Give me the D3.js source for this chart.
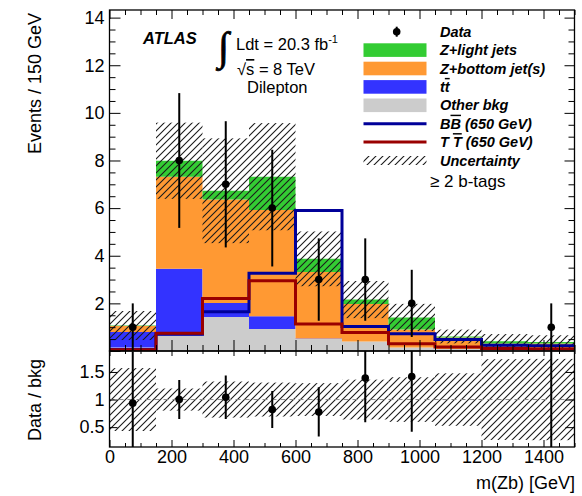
<!DOCTYPE html>
<html>
<head>
<meta charset="utf-8">
<script src="https://cdn.jsdelivr.net/npm/d3@7/dist/d3.min.js"></script>
<style>
  html, body { margin: 0; padding: 0; background: #fff; }
  svg { display: block; font-family: "Liberation Sans", Arial, Helvetica, sans-serif; }
</style>
</head>
<body>
<svg id="chart" width="582" height="496"></svg>
<script>
// m(Zb) distribution, >= 2 b-tags, dilepton channel (events per 150 GeV bin)
const binEdges   = [0, 150, 300, 450, 600, 750, 900, 1050, 1200, 1350, 1500];
const otherBkg   = [0.15, 0.65, 1.43, 0.92, 0.50, 0.40, 0.15, 0.08, 0.06, 0.05];
const ttbar      = [0.65, 2.80, 0.59, 0.54, 0.02, 0.00, 0.00, 0.00, 0.00, 0.00];
const zBottom    = [0.25, 3.87, 4.34, 4.46, 2.80, 1.57, 0.75, 0.49, 0.26, 0.26];
const zLight     = [0.02, 0.67, 0.37, 1.40, 0.55, 0.19, 0.51, 0.04, 0.09, 0.07];
const bkgUnc     = [0.61, 1.60, 2.20, 2.25, 1.15, 0.78, 0.57, 0.29, 0.30, 0.28];
const dataCounts = [1, 8, 7, 6, 3, 3, 2, 0, 0, 1];
const dataErr    = [1.00, 2.83, 2.65, 2.45, 1.73, 1.73, 1.41, 0, 0, 1.00];
const sigBB      = [0.06, 0.70, 1.65, 3.26, 5.90, 1.03, 0.72, 0.48, 0.24, 0.22];
const sigTT      = [0.05, 0.75, 2.20, 2.95, 1.13, 0.78, 0.30, 0.17, 0.10, 0.08];
const yTicksMain = [2, 4, 6, 8, 10, 12, 14];
const yTicksRatio = [0.5, 1, 1.5];
const xTicks     = [0, 200, 400, 600, 800, 1000, 1200, 1400];

const legendRows = [
  { kind: "data",  label: [["Data"]] },
  { kind: "box",   color: "#33cc33", label: [["Z+light jets"]] },
  { kind: "box",   color: "#ff9933", label: [["Z+bottom jet(s)"]] },
  { kind: "box",   color: "#3333ff", label: [["t"], ["t", "over"]] },
  { kind: "box",   color: "#cccccc", label: [["Other bkg"]] },
  { kind: "line",  color: "#000099", label: [["B"], ["B", "over"], [" (650 GeV)"]] },
  { kind: "line",  color: "#990000", label: [["T "], ["T", "over"], [" (650 GeV)"]] },
  { kind: "hatch", label: [["Uncertainty"]] }
];

const FS = 18;
const svg = d3.select("#chart");
const nb = dataCounts.length;
const bins = d3.range(nb);

const x  = d3.scaleLinear().domain([0, 1500]).range([109.5, 574.5]);
const y  = d3.scaleLinear().domain([0, 14.32]).range([351, 10]);
const yr = d3.scaleLinear().domain([0.14, 1.88]).range([447, 351]);

const defs = svg.append("defs");
const pat = defs.append("pattern").attr("id", "hatch")
  .attr("patternUnits", "userSpaceOnUse").attr("width", 7).attr("height", 7);
pat.append("path").attr("d", "M-1,1 l2,-2 M0,7 l7,-7 M6,8 l2,-2")
  .attr("stroke", "#1a1a1a").attr("stroke-width", 1.1);

defs.append("clipPath").attr("id", "clipMain").append("rect")
  .attr("x", x(0)).attr("y", y(14.32)).attr("width", x(1500) - x(0)).attr("height", y(0) - y(14.32));
defs.append("clipPath").attr("id", "clipRatio").append("rect")
  .attr("x", x(0)).attr("y", yr(1.88)).attr("width", x(1500) - x(0)).attr("height", yr(0.14) - yr(1.88));

// stacked backgrounds
const comps = [
  { vals: otherBkg, color: "#cccccc" },
  { vals: ttbar,    color: "#3333ff" },
  { vals: zBottom,  color: "#ff9933" },
  { vals: zLight,   color: "#33cc33" }
];
const total = bins.map(i => comps.reduce((s, c) => s + c.vals[i], 0));

const main = svg.append("g").attr("clip-path", "url(#clipMain)");

function stepPoints(lo, hi) {
  const pts = bins.map(i => ({ e: binEdges[i], lo: lo[i], hi: hi[i] }));
  pts.push({ e: binEdges[nb], lo: lo[nb - 1], hi: hi[nb - 1] });
  return pts;
}
const area = d3.area().curve(d3.curveStepAfter)
  .x(d => x(d.e)).y0(d => y(d.lo)).y1(d => y(d.hi));

let base = bins.map(() => 0);
comps.forEach(c => {
  const top = bins.map(i => base[i] + c.vals[i]);
  main.append("path").datum(stepPoints(base, top))
    .attr("d", area).attr("fill", c.color);
  base = top;
});

// background uncertainty band
main.append("g").selectAll("rect").data(bins).join("rect")
  .attr("x", i => x(binEdges[i])).attr("width", i => x(binEdges[i + 1]) - x(binEdges[i]))
  .attr("y", i => y(total[i] + bkgUnc[i]))
  .attr("height", i => y(Math.max(0, total[i] - bkgUnc[i])) - y(total[i] + bkgUnc[i]))
  .attr("fill", "url(#hatch)");

// signal hypotheses
const stepLine = d3.line().curve(d3.curveStepAfter).x(d => x(d.e)).y(d => y(d.v));
[[sigBB, "#000099"], [sigTT, "#990000"]].forEach(([vals, col]) => {
  const pts = bins.map(i => ({ e: binEdges[i], v: vals[i] }));
  pts.push({ e: binEdges[nb], v: vals[nb - 1] });
  main.append("path").datum(pts).attr("d", stepLine)
    .attr("fill", "none").attr("stroke", col).attr("stroke-width", 3);
});

// data points
const centers = bins.map(i => (binEdges[i] + binEdges[i + 1]) / 2);
const dataBins = bins.filter(i => dataCounts[i] > 0);
const dataG = svg.append("g");
dataG.selectAll("line").data(dataBins).join("line")
  .attr("x1", i => x(centers[i])).attr("x2", i => x(centers[i]))
  .attr("y1", i => y(dataCounts[i] - dataErr[i])).attr("y2", i => y(dataCounts[i] + dataErr[i]))
  .attr("stroke", "#000").attr("stroke-width", 2);
dataG.selectAll("circle").data(dataBins).join("circle")
  .attr("cx", i => x(centers[i])).attr("cy", i => y(dataCounts[i])).attr("r", 3.8).attr("fill", "#000");

// ratio panel
const ratio = svg.append("g").attr("clip-path", "url(#clipRatio)");
ratio.append("g").selectAll("rect").data(bins).join("rect")
  .attr("x", i => x(binEdges[i])).attr("width", i => x(binEdges[i + 1]) - x(binEdges[i]))
  .attr("y", i => yr(1 + bkgUnc[i] / total[i]))
  .attr("height", i => yr(1 - bkgUnc[i] / total[i]) - yr(1 + bkgUnc[i] / total[i]))
  .attr("fill", "url(#hatch)");
ratio.append("line").attr("x1", x(0)).attr("x2", x(1500)).attr("y1", yr(1)).attr("y2", yr(1))
  .attr("stroke", "#8a8a8a").attr("stroke-width", 1).attr("stroke-dasharray", "5,4");
ratio.selectAll("line.err").data(dataBins).join("line").attr("class", "err")
  .attr("x1", i => x(centers[i])).attr("x2", i => x(centers[i]))
  .attr("y1", i => yr((dataCounts[i] - dataErr[i]) / total[i]))
  .attr("y2", i => yr((dataCounts[i] + dataErr[i]) / total[i]))
  .attr("stroke", "#000").attr("stroke-width", 2);
ratio.selectAll("circle").data(dataBins).join("circle")
  .attr("cx", i => x(centers[i])).attr("cy", i => yr(dataCounts[i] / total[i])).attr("r", 3.8).attr("fill", "#000");

// axes: ticks on every side, pointing inward
function ticks(axis, tr) {
  const g = svg.append("g").attr("transform", tr).call(axis);
  g.select(".domain").remove();
  g.selectAll("line").attr("stroke", "#000").attr("stroke-width", 1);
  return g;
}
const minorX = d3.range(0, 1501, 50).filter(v => v % 200 !== 0);
const minorY = d3.range(0, 14.3, 0.5).filter(v => v % 2 !== 0);
const plain = d => String(d);

// main panel
ticks(d3.axisBottom(x).tickValues(xTicks).tickSize(-11).tickFormat(""), `translate(0,${y(0)})`);
ticks(d3.axisBottom(x).tickValues(minorX).tickSize(-6).tickFormat(""), `translate(0,${y(0)})`);
ticks(d3.axisTop(x).tickValues(xTicks).tickSize(-9).tickFormat(""), `translate(0,${y(14.32)})`);
ticks(d3.axisTop(x).tickValues(minorX).tickSize(-5).tickFormat(""), `translate(0,${y(14.32)})`);
const yAxisG = ticks(d3.axisLeft(y).tickValues([0].concat(yTicksMain)).tickSize(-11).tickPadding(5)
  .tickFormat(d => d === 0 ? "" : plain(d)), `translate(${x(0)},0)`);
ticks(d3.axisLeft(y).tickValues(minorY).tickSize(-6).tickFormat(""), `translate(${x(0)},0)`);
ticks(d3.axisRight(y).tickValues(yTicksMain).tickSize(-10).tickFormat(""), `translate(${x(1500)},0)`);
ticks(d3.axisRight(y).tickValues(minorY).tickSize(-6).tickFormat(""), `translate(${x(1500)},0)`);

// ratio panel
const xAxisG = ticks(d3.axisBottom(x).tickValues(xTicks).tickSize(-7).tickPadding(3).tickFormat(plain),
  `translate(0,${yr(0.14)})`);
ticks(d3.axisBottom(x).tickValues(minorX).tickSize(-4).tickFormat(""), `translate(0,${yr(0.14)})`);
ticks(d3.axisTop(x).tickValues(xTicks).tickSize(-5).tickFormat(""), `translate(0,${yr(1.88)})`);
ticks(d3.axisTop(x).tickValues(minorX).tickSize(-3).tickFormat(""), `translate(0,${yr(1.88)})`);
const yrAxisG = ticks(d3.axisLeft(yr).tickValues(yTicksRatio).tickSize(-8).tickPadding(5)
  .tickFormat(plain), `translate(${x(0)},0)`);
ticks(d3.axisRight(yr).tickValues(yTicksRatio).tickSize(-9).tickFormat(""), `translate(${x(1500)},0)`);

[yAxisG, xAxisG, yrAxisG].forEach(g => g.selectAll("text")
  .attr("font-size", FS).attr("fill", "#000").attr("font-family", "Liberation Sans, Arial, sans-serif"));

// frames
svg.append("rect").attr("x", x(0)).attr("y", y(14.32)).attr("width", x(1500) - x(0)).attr("height", y(0) - y(14.32))
  .attr("fill", "none").attr("stroke", "#000").attr("stroke-width", 1.3);
svg.append("rect").attr("x", x(0)).attr("y", yr(1.88)).attr("width", x(1500) - x(0)).attr("height", yr(0.14) - yr(1.88))
  .attr("fill", "none").attr("stroke", "#000").attr("stroke-width", 1.3);

// axis titles
svg.append("text").attr("transform", "translate(41,13) rotate(-90)")
  .attr("text-anchor", "end").attr("font-size", FS).text("Events / 150 GeV");
svg.append("text").attr("transform", "translate(41,400) rotate(-90)")
  .attr("text-anchor", "middle").attr("font-size", FS).text("Data / bkg");
svg.append("text").attr("x", 575).attr("y", 489).attr("text-anchor", "end")
  .attr("font-size", FS).text("m(Zb) [GeV]");

// labels inside the main panel
svg.append("text").attr("x", 143).attr("y", 43.5).attr("font-size", 16.5)
  .attr("font-weight", "bold").attr("font-style", "italic").text("ATLAS");
svg.append("text").attr("x", 218).attr("y", 60).attr("font-size", 40)
  .attr("font-family", "Liberation Serif, serif")
  .attr("stroke", "#000").attr("stroke-width", 0.8).text("\u222B");
const lumi = svg.append("text").attr("x", 236).attr("y", 50).attr("font-size", 16.5);
lumi.append("tspan").text("Ldt = 20.3 fb");
lumi.append("tspan").attr("dy", -7).attr("font-size", 11).text("-1");
const sq = svg.append("text").attr("x", 237).attr("y", 75).attr("font-size", 16.5);
sq.append("tspan").text("\u221A");
sq.append("tspan").attr("text-decoration", "overline").text("s");
sq.append("tspan").text(" = 8 TeV");
svg.append("text").attr("x", 247).attr("y", 93).attr("font-size", 16.5).text("Dilepton");

// legend
const lg = svg.append("g");
legendRows.forEach((r, i) => {
  const base = 36.7 + i * 18.4, cy = base - 5;
  if (r.kind === "data") {
    lg.append("line").attr("x1", 396.7).attr("x2", 396.7).attr("y1", cy - 5).attr("y2", cy + 5)
      .attr("stroke", "#000").attr("stroke-width", 2);
    lg.append("circle").attr("cx", 396.7).attr("cy", cy).attr("r", 3.8).attr("fill", "#000");
  } else if (r.kind === "box") {
    lg.append("rect").attr("x", 363.5).attr("y", cy - 6.8).attr("width", 63).attr("height", 13.6).attr("fill", r.color);
  } else if (r.kind === "line") {
    lg.append("line").attr("x1", 363.5).attr("x2", 426.5).attr("y1", cy).attr("y2", cy)
      .attr("stroke", r.color).attr("stroke-width", 3);
  } else {
    lg.append("rect").attr("x", 363.5).attr("y", cy - 4.5).attr("width", 63).attr("height", 9).attr("fill", "url(#hatch)");
  }
  const t = lg.append("text").attr("x", 440).attr("y", base).attr("font-size", 14.5)
    .attr("font-weight", "bold").attr("font-style", "italic");
  r.label.forEach(([s, deco]) => {
    const sp = t.append("tspan").text(s);
    if (deco === "over") sp.attr("text-decoration", "overline");
  });
});
svg.append("text").attr("x", 430).attr("y", 187).attr("font-size", 17).text("\u2265 2 b-tags");
</script>
</body>
</html>
